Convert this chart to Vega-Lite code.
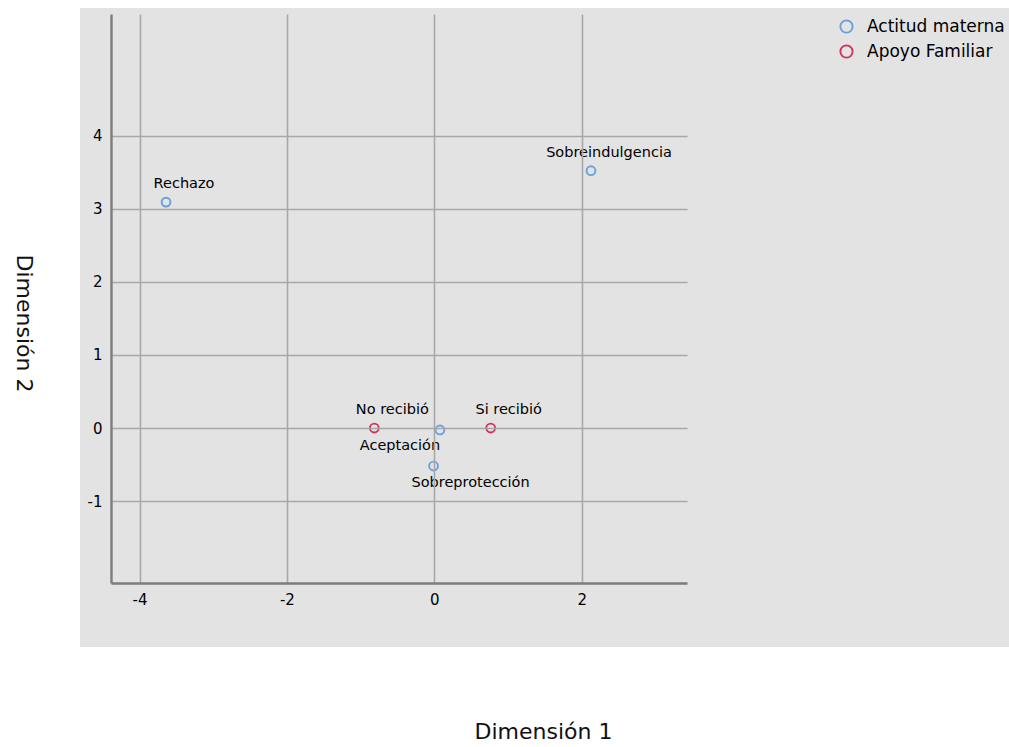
{
  "$schema": "https://vega.github.io/schema/vega-lite/v6.json",
  "width": 576,
  "height": 569,
  "autosize": {"type": "none"},
  "padding": {"left": 111, "top": 14, "right": 322, "bottom": 164},
  "background": "white",
  "config": {
    "view": {"stroke": null},
    "font": "DejaVu Sans",
    "axis": {
      "grid": true,
      "gridColor": "#a8a8a8",
      "gridWidth": 1.6,
      "domainColor": "#7c7c7c",
      "domainWidth": 2.4,
      "ticks": false,
      "labelFont": "DejaVu Sans",
      "labelFontSize": 15,
      "labelColor": "#000000",
      "labelFlush": false,
      "labelOverlap": false,
      "titleFont": "DejaVu Sans",
      "titleFontSize": 22,
      "titleFontWeight": "normal",
      "titleColor": "#111111"
    },
    "legend": {
      "orient": "none",
      "legendX": 727,
      "legendY": 4,
      "padding": 0,
      "symbolType": "circle",
      "symbolSize": 150,
      "symbolStrokeWidth": 1.9,
      "symbolOffset": 0,
      "labelFont": "DejaVu Sans",
      "labelFontSize": 17,
      "labelColor": "#000000",
      "labelOffset": 12,
      "rowPadding": 4
    }
  },
  "data": {
    "values": [
      {"categoria": "Rechazo", "grupo": "Actitud materna", "dim1": -3.64, "dim2": 3.09},
      {"categoria": "Sobreindulgencia", "grupo": "Actitud materna", "dim1": 2.126, "dim2": 3.52},
      {"categoria": "Aceptación", "grupo": "Actitud materna", "dim1": 0.077, "dim2": -0.027},
      {"categoria": "Sobreprotección", "grupo": "Actitud materna", "dim1": -0.01, "dim2": -0.52},
      {"categoria": "No recibió", "grupo": "Apoyo Familiar", "dim1": -0.814, "dim2": 0.0},
      {"categoria": "Si recibió", "grupo": "Apoyo Familiar", "dim1": 0.765, "dim2": 0.0}
    ]
  },
  "layer": [
    {
      "data": {"values": [{}]},
      "mark": {"type": "rect", "color": "#e3e3e3", "clip": false},
      "encoding": {
        "x": {
          "datum": -4.807, "type": "quantitative",
          "scale": {"domain": [-4.387, 3.429], "nice": false, "zero": false},
          "axis": {
            "zindex": 1,
            "values": [-4, -2, 0, 2],
            "labelExpr": "'' + datum.value",
            "labelPadding": 9,
            "title": "Dimensión 1",
            "titleX": 432,
            "titleY": 148,
            "titleAlign": "center",
            "titleBaseline": "middle",
            "titleAngle": 0
          }
        },
        "x2": {"datum": 8.5},
        "y": {
          "datum": 5.745, "type": "quantitative",
          "scale": {"domain": [-2.12, 5.663], "nice": false, "zero": false},
          "axis": {
            "zindex": 1,
            "values": [-1, 0, 1, 2, 3, 4],
            "labelExpr": "'' + datum.value",
            "labelPadding": 9,
            "title": "Dimensión 2",
            "titleX": -88,
            "titleY": 309,
            "titleAlign": "center",
            "titleBaseline": "middle",
            "titleAngle": 90
          }
        },
        "y2": {"datum": -2.996}
      }
    },
    {
      "mark": {"type": "point", "shape": "circle", "filled": false, "size": 78, "strokeWidth": 1.9, "opacity": 1},
      "encoding": {
        "x": {
          "field": "dim1", "type": "quantitative",
          "scale": {"domain": [-4.387, 3.429], "nice": false, "zero": false},
          "axis": {
            "zindex": 1,
            "values": [-4, -2, 0, 2],
            "labelExpr": "'' + datum.value",
            "labelPadding": 9,
            "title": "Dimensión 1",
            "titleX": 432,
            "titleY": 148,
            "titleAlign": "center",
            "titleBaseline": "middle",
            "titleAngle": 0
          }
        },
        "y": {
          "field": "dim2", "type": "quantitative",
          "scale": {"domain": [-2.12, 5.663], "nice": false, "zero": false},
          "axis": {
            "zindex": 1,
            "values": [-1, 0, 1, 2, 3, 4],
            "labelExpr": "'' + datum.value",
            "labelPadding": 9,
            "title": "Dimensión 2",
            "titleX": -88,
            "titleY": 309,
            "titleAlign": "center",
            "titleBaseline": "middle",
            "titleAngle": 90
          }
        },
        "color": {
          "field": "grupo", "type": "nominal",
          "scale": {"domain": ["Actitud materna", "Apoyo Familiar"], "range": ["#6a9fe0", "#d1345b"]},
          "legend": {"title": null}
        }
      }
    },
    {
      "transform": [{"filter": "datum.categoria !== 'Aceptación' && datum.categoria !== 'Sobreprotección'"}],
      "mark": {"type": "text", "fontSize": 14.5, "font": "DejaVu Sans", "color": "#000000", "align": "center", "baseline": "middle", "dx": 18, "dy": -18},
      "encoding": {
        "x": {"field": "dim1", "type": "quantitative", "title": "Dimensión 1"},
        "y": {"field": "dim2", "type": "quantitative", "title": "Dimensión 2"},
        "text": {"field": "categoria"}
      }
    },
    {
      "transform": [{"filter": "datum.categoria === 'Aceptación'"}],
      "mark": {"type": "text", "fontSize": 14.5, "font": "DejaVu Sans", "color": "#000000", "align": "center", "baseline": "middle", "dx": -40, "dy": 16},
      "encoding": {
        "x": {"field": "dim1", "type": "quantitative", "title": "Dimensión 1"},
        "y": {"field": "dim2", "type": "quantitative", "title": "Dimensión 2"},
        "text": {"field": "categoria"}
      }
    },
    {
      "transform": [{"filter": "datum.categoria === 'Sobreprotección'"}],
      "mark": {"type": "text", "fontSize": 14.5, "font": "DejaVu Sans", "color": "#000000", "align": "center", "baseline": "middle", "dx": 37, "dy": 17},
      "encoding": {
        "x": {"field": "dim1", "type": "quantitative", "title": "Dimensión 1"},
        "y": {"field": "dim2", "type": "quantitative", "title": "Dimensión 2"},
        "text": {"field": "categoria"}
      }
    }
  ]
}
